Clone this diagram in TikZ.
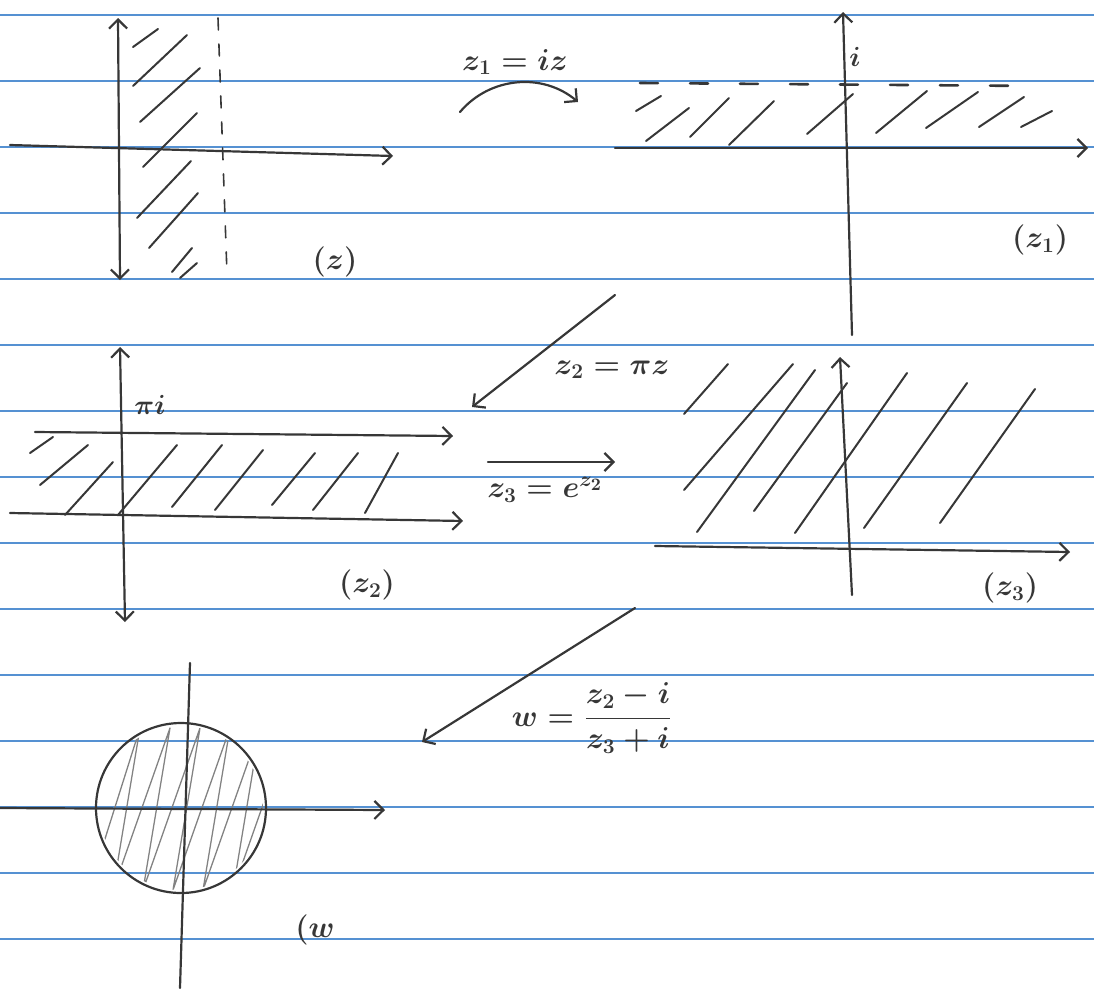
\documentclass[tikz,border=0pt]{standalone}
\usepackage{amsmath}
\usepackage{tikz}
\usetikzlibrary{arrows.meta}
\definecolor{pencil}{RGB}{55,55,55}
\definecolor{ruleblue}{RGB}{85,145,210}
\definecolor{shadegray}{RGB}{130,130,130}

\begin{document}
\begin{tikzpicture}[x=1pt,y=-1pt,
  axis/.style={pencil,line width=2.2pt,line cap=round},
  hatch/.style={pencil,line width=2pt,line cap=round},
  tip/.style={-{Straight Barb[length=9pt,width=18pt]}},
  dtip/.style={{Straight Barb[length=9pt,width=18pt]}-{Straight Barb[length=9pt,width=18pt]}},
  lbl/.style={pencil,font=\LARGE\boldmath,scale=1.75,inner sep=0pt},
  small lbl/.style={pencil,font=\LARGE\boldmath,scale=1.6,inner sep=0pt}]
  \useasboundingbox (0,0) rectangle (1094,988);
  \foreach \y in {15,81,...,939}
    \draw[ruleblue,line width=1.8pt] (0,\y) -- (1094,\y);

  % plane (z)
  \draw[axis,dtip] (118,18) -- (120,280);
  \draw[axis,tip] (10,145) -- (393,156);
  \draw[axis,line width=1.6pt,dash pattern=on 12pt off 14pt] (218,18) -- (227,274);
  \foreach \a/\b/\c/\d in {133/47/158/29,133/86/187/35,140/122/200/68,143/167/197/113,
      137/218/191/161,149/248/198/193,172/272/192/248,180/278/197/263}
    \draw[hatch] (\a,\b) -- (\c,\d);
  \node[lbl] (zname) at (335,262) {$(z)$};

  \coordinate (mapAs) at (460,112);
  \coordinate (mapAe) at (578,102);
  \draw[axis,tip] (mapAs) to[bend left=45] (mapAe);
  \node[lbl] (mapA) at (515,62) {$z_1=iz$};

  % plane (z1)
  \draw[axis,tip] (852,335) -- (843,12);
  \draw[axis,tip] (615,148) -- (1088,148);
  \draw[axis,line width=2.6pt,dash pattern=on 18pt off 32pt] (640,83) -- (1035,86);
  \node[small lbl] (ione) at (855,57) {$i$};
  \foreach \a/\b/\c/\d in {636/111/661/96,646/141/689/108,690/137/729/98,729/145/774/101,
      807/134/853/94,876/133/927/91,926/128/978/92,979/127/1024/97,1021/127/1052/111}
    \draw[hatch] (\a,\b) -- (\c,\d);
  \node[lbl] (zonename) at (1040,240) {$(z_1)$};

  \coordinate (mapBs) at (615,295);
  \coordinate (mapBe) at (472,407);
  \draw[axis,tip] (mapBs) -- (mapBe);
  \node[lbl] (mapB) at (612,370) {$z_2=\pi z$};

  % plane (z2)
  \draw[axis,dtip] (120,347) -- (125,622);
  \draw[axis,tip] (35,432) -- (453,436);
  \draw[axis,tip] (10,513) -- (463,521);
  \node[small lbl] (pii) at (150,405) {$\pi i$};
  \foreach \a/\b/\c/\d in {30/453/53/437,40/485/88/445,65/515/113/462,118/515/177/445,
      172/507/222/445,215/510/263/450,272/505/315/453,313/510/358/453,365/513/398/453}
    \draw[hatch] (\a,\b) -- (\c,\d);
  \node[lbl] (ztwoname) at (367,585) {$(z_2)$};

  \coordinate (mapCs) at (488,462);
  \coordinate (mapCe) at (615,462);
  \draw[axis,tip] (mapCs) -- (mapCe);
  \node[lbl] (mapC) at (545,490) {$z_3=e^{z_2}$};

  % plane (z3)
  \draw[axis,tip] (852,595) -- (840,357);
  \draw[axis,tip] (655,546) -- (1070,552);
  \foreach \a/\b/\c/\d in {684/414/728/364,684/490/793/364,697/532/815/370,754/511/847/383,
      795/533/907/373,864/528/967/383,940/523/1035/389}
    \draw[hatch] (\a,\b) -- (\c,\d);
  \node[lbl] (zthreename) at (1010,588) {$(z_3)$};

  \coordinate (mapDs) at (635,608);
  \coordinate (mapDe) at (422,742);
  \draw[axis,tip] (mapDs) -- (mapDe);
  \node[lbl] (mapD) at (592,718) {$w=\dfrac{z_2-i}{z_3+i}$};

  % plane (w)
  \begin{scope}
    \clip (181,808) circle (82);
    \draw[shadegray,line width=1.3pt,line join=round] (92,880)
      \foreach \x in {95,125,...,245} { -- (\x+45,728) -- (\x+18,890) };
  \end{scope}
  \draw[axis] (181,808) circle (85);
  \draw[axis] (190,663) -- (180,988);
  \draw[axis,tip] (0,808) -- (385,810);
  \node[lbl] (wname) at (315,930) {$(w$};
\end{tikzpicture}
\end{document}
